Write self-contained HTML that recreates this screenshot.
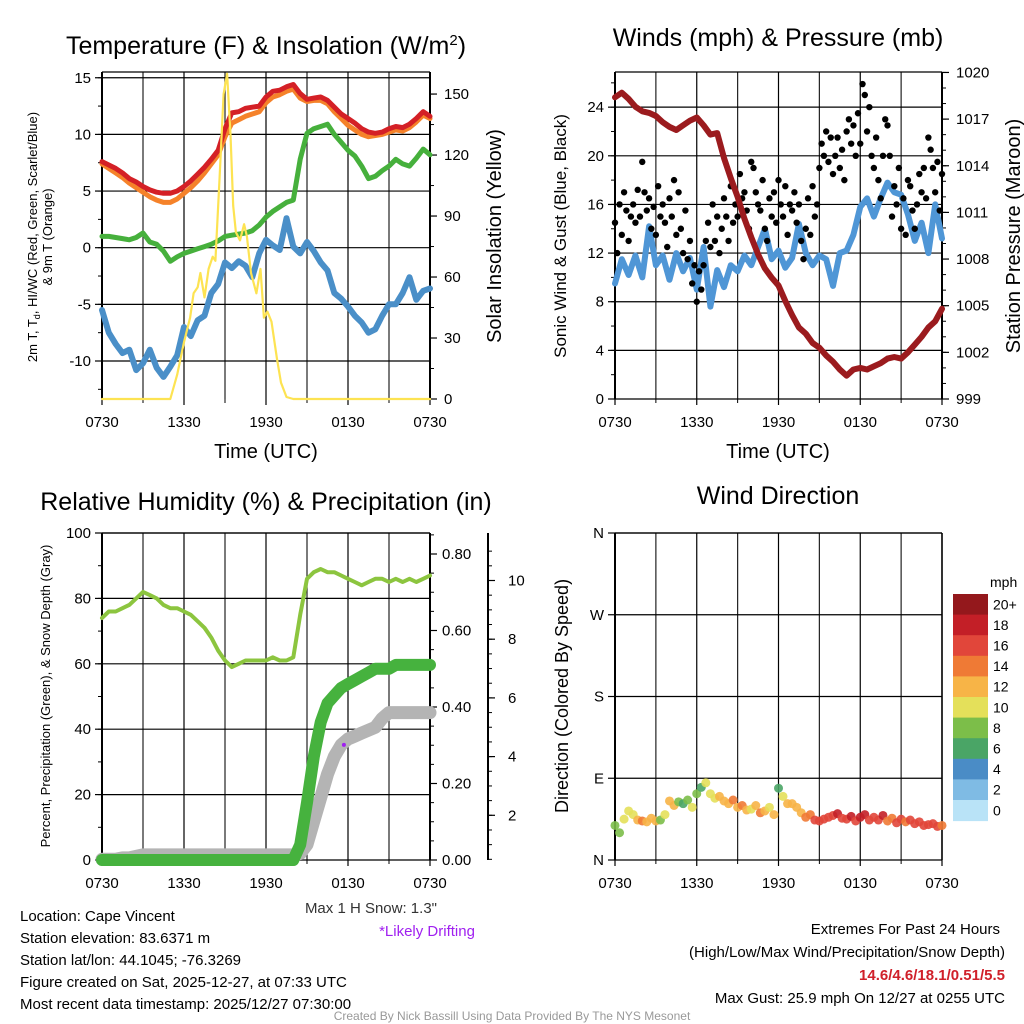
<!DOCTYPE html>
<html><head><meta charset="utf-8">
<style>
html,body{margin:0;padding:0;background:#fff;}
svg{display:block;font-family:"Liberation Sans",Arial,sans-serif;}
</style></head>
<body>
<svg id="s" width="1024" height="1024" viewBox="0 0 1024 1024" xmlns="http://www.w3.org/2000/svg">
<rect width="1024" height="1024" fill="#fff"/>
<text x="266" y="54" font-size="25" text-anchor="middle">Temperature (F) &amp; Insolation (W/m<tspan dy="-9" font-size="15">2</tspan><tspan dy="9">)</tspan></text>
<text x="778" y="46" font-size="25" text-anchor="middle">Winds (mph) &amp; Pressure (mb)</text>
<text x="266" y="510" font-size="25" text-anchor="middle">Relative Humidity (%) &amp; Precipitation (in)</text>
<text x="778" y="504" font-size="25" text-anchor="middle">Wind Direction</text>
<text transform="translate(37,237) rotate(-90)" font-size="13" text-anchor="middle">2m T, T<tspan dy="3" font-size="9">d</tspan><tspan dy="-3">, HI/WC (Red, Green, Scarlet/Blue)</tspan></text>
<text transform="translate(52,237) rotate(-90)" font-size="13" text-anchor="middle">&amp; 9m T (Orange)</text>
<text transform="translate(501,236) rotate(-90)" font-size="20" text-anchor="middle">Solar Insolation (Yellow)</text>
<text transform="translate(566,236) rotate(-90)" font-size="17" text-anchor="middle">Sonic Wind &amp; Gust (Blue, Black)</text>
<text transform="translate(1020,236) rotate(-90)" font-size="20" text-anchor="middle">Station Pressure (Maroon)</text>
<text transform="translate(50,696) rotate(-90)" font-size="13" text-anchor="middle">Percent, Precipitation (Green), &amp; Snow Depth (Gray)</text>
<text transform="translate(568,696) rotate(-90)" font-size="18" text-anchor="middle">Direction (Colored By Speed)</text>
<text x="266" y="458" font-size="20" text-anchor="middle">Time (UTC)</text>
<text x="778" y="458" font-size="20" text-anchor="middle">Time (UTC)</text>
<g font-size="15">
<text x="20" y="921">Location: Cape Vincent</text>
<text x="20" y="943">Station elevation: 83.6371 m</text>
<text x="20" y="965">Station lat/lon: 44.1045; -76.3269</text>
<text x="20" y="987">Figure created on Sat, 2025-12-27, at 07:33 UTC</text>
<text x="20" y="1009">Most recent data timestamp: 2025/12/27 07:30:00</text>
</g>
<text x="437" y="913" font-size="15" text-anchor="end" fill="#333">Max 1 H Snow: 1.3"</text>
<text x="427" y="936" font-size="15" text-anchor="middle" fill="#a020f0">*Likely Drifting</text>
<g font-size="15" text-anchor="end">
<text x="1000" y="934">Extremes For Past 24 Hours</text>
<text x="1005" y="957">(High/Low/Max Wind/Precipitation/Snow Depth)</text>
<text x="1005" y="980" fill="#d0202a" font-weight="bold">14.6/4.6/18.1/0.51/5.5</text>
<text x="1005" y="1003">Max Gust: 25.9 mph On 12/27 at 0255 UTC</text>
</g>
<text x="512" y="1020" font-size="12" text-anchor="middle" fill="#999">Created By Nick Bassill Using Data Provided By The NYS Mesonet</text>
</svg>
<script>
const timeLabels = ["0730","1330","1930","0130","0730"];
const tempRed = [7.6,7.3,7.0,6.6,6.1,5.8,5.4,5.1,4.9,4.8,4.8,5.0,5.4,5.9,6.5,7.1,7.8,8.6,10.5,11.9,12.0,12.3,12.4,12.5,13.3,13.8,13.9,14.2,14.4,13.6,13.1,13.2,13.3,13.0,12.4,11.8,11.4,11.0,10.5,10.2,10.1,10.2,10.5,10.7,10.6,10.9,11.4,12.0,11.6];
const tempOrange = [7.4,7.0,6.6,6.2,5.7,5.3,4.9,4.5,4.2,4.0,4.0,4.3,4.8,5.3,5.9,6.6,7.4,8.2,9.8,11.0,11.3,11.6,11.8,12.0,12.8,13.3,13.5,13.8,14.0,13.2,12.9,13.0,13.0,12.7,12.0,11.4,10.8,10.4,10.0,9.8,9.9,10.0,10.2,10.4,10.3,10.6,11.1,11.7,11.4];
const dewGreen = [1.0,1.0,0.9,0.8,0.7,0.9,1.3,0.5,0.3,-0.3,-1.2,-0.8,-0.5,-0.3,-0.1,0.1,0.3,0.6,1.0,1.1,1.2,1.3,1.5,2.0,2.7,3.2,3.6,4.0,4.2,7.8,10.1,10.5,10.7,10.9,10.0,9.3,8.6,8.1,7.2,6.1,6.3,6.8,7.2,7.8,7.4,7.2,7.9,8.7,8.2];
const chillBlue = [-5.5,-7.5,-8.5,-9.3,-9.0,-10.8,-10.2,-9.0,-10.6,-11.4,-10.5,-9.5,-7.0,-7.8,-6.4,-6.0,-4.0,-3.2,-1.3,-1.8,-1.2,-1.6,-2.6,-0.5,0.7,0.2,-0.2,2.6,0.1,-0.5,0.5,-0.3,-1.3,-2.0,-4.0,-4.5,-5.2,-6.0,-6.6,-7.5,-7.2,-6.0,-5.0,-5.0,-4.0,-2.6,-4.6,-3.8,-3.6];
const solarHours = [0,5.0,5.5,6.0,6.45,6.7,7.0,7.2,7.5,7.8,8.1,8.3,8.6,8.9,9.15,9.4,9.6,9.8,10.1,10.4,10.6,10.9,11.3,11.6,11.85,12.1,12.4,12.8,13.1,13.5,14,24];
const solarValues = [0,0,12,28,40,52,55,62,50,64,70,68,108,150,160,130,95,82,78,86,80,62,52,64,40,43,38,20,8,1,0,0];
const tempTicks = [-10,-5,0,5,10,15];
const solarTicks = [0,30,60,90,120,150];
const windSpeed = [9.5,11.5,10.2,11.8,10.0,14.2,11.0,11.8,9.8,12.0,10.5,11.6,9.0,12.5,7.6,10.6,9.2,11.0,10.5,11.8,11.0,12.5,14.0,11.5,12.2,10.8,11.6,14.4,12.0,11.0,11.8,11.5,9.3,12.0,12.2,13.5,15.8,16.5,15.0,16.5,17.8,17.0,16.8,15.2,13.0,14.5,12.0,16.0,13.2];
const windGust = [14.5,12.0,16.0,13.5,17.0,15.5,13.0,15.0,16.0,14.5,17.2,15.0,19.5,17.0,15.5,16.5,14.0,15.8,13.5,17.5,15.0,16.0,14.5,12.5,16.5,15.0,18.0,13.5,17.0,14.0,12.0,15.5,11.5,13.0,9.5,11.0,8.0,10.5,9.0,11.0,13.0,14.5,12.5,16.0,13.0,15.0,12.0,14.0,16.5,15.0,13.0,17.5,14.5,16.0,15.0,18.5,16.5,17.0,15.5,14.0,19.5,19.0,17.0,16.0,15.5,18.0,14.0,13.0,16.5,15.0,17.0,14.5,18.0,16.0,15.0,17.5,13.5,16.0,15.5,17.0,14.5,16.0,13.0,11.5,14.0,16.5,13.5,17.5,15.0,16.0,19.0,21.0,20.0,22.0,19.5,21.5,18.5,20.0,21.5,19.0,20.5,18.0,22.0,23.0,21.0,22.5,20.0,23.5,21.0,25.9,25.0,22.0,24.0,20.0,19.0,21.5,18.0,16.5,20.0,23.0,22.5,20.0,15.0,17.5,16.0,19.0,14.0,16.5,13.5,18.0,17.5,15.5,14.0,16.0,18.5,17.0,19.0,16.5,21.5,20.5,19.0,17.0,19.5,15.5,18.5];
const pressure = [1018.4,1018.7,1018.3,1017.8,1017.5,1017.4,1017.2,1016.8,1016.5,1016.3,1016.6,1016.9,1017.1,1016.6,1016.0,1016.1,1014.5,1013.2,1012.0,1010.6,1009.4,1008.3,1007.4,1006.8,1006.3,1005.3,1004.4,1003.6,1003.2,1002.6,1002.3,1001.8,1001.4,1000.9,1000.5,1000.9,1001.0,1000.9,1001.1,1001.3,1001.6,1001.7,1001.6,1002.0,1002.5,1003.0,1003.6,1004.0,1004.8];
const windTicks = [0,4,8,12,16,20,24];
const pressTicks = [999,1002,1005,1008,1011,1014,1017,1020];
const rhValues = [74,76,76,77,78,80,82,81,80,78,77,77,76,75,73,71,68,64,61,59,60,61,61,61,61,62,61,61,62,75,86,88,89,88,88,87,86,85,84,85,86,86,85,86,85,86,85,86,87];
const precipValues = [0,0,0,0,0,0,0,0,0,0,0,0,0,0,0,0,0,0,0,0,0,0,0,0,0,0,0,0,0,0.04,0.15,0.27,0.36,0.41,0.43,0.45,0.46,0.47,0.48,0.49,0.50,0.50,0.50,0.51,0.51,0.51,0.51,0.51,0.51];
const snowValues = [0.5,0.5,0.5,0.55,0.55,0.6,0.65,0.65,0.65,0.65,0.65,0.65,0.65,0.65,0.65,0.65,0.65,0.65,0.65,0.65,0.65,0.65,0.65,0.65,0.65,0.65,0.65,0.65,0.65,0.7,1.0,1.8,2.6,3.4,4.0,4.4,4.6,4.7,4.8,4.9,5.0,5.3,5.5,5.5,5.5,5.5,5.5,5.5,5.5];
const rhTicks = [0,20,40,60,80,100];
const precipTicks = [0,0.2,0.4,0.6,0.8];
const snowTicks = [2,4,6,8,10];
const driftPoint = [17.7,4.4];
const dirValues = [38,30,45,54,50,44,43,42,46,43,44,50,65,60,64,62,66,58,73,80,85,73,68,70,65,62,66,58,60,55,56,60,52,54,58,50,79,70,62,62,58,52,47,50,44,43,45,47,49,51,46,45,48,43,47,50,44,47,44,49,43,46,41,45,42,44,40,42,38,39,40,37,38];
const dirSpeeds = [9,8,11,10,11,13,14,13,12,12,9,10,12,13,8,7,9,10,8,7,10,11,10,12,12,13,14,12,14,13,11,12,14,12,10,13,7,10,12,12,13,12,14,15,16,16,17,16,17,18,17,16,18,17,18,19,17,17,16,18,14,15,16,16,15,17,17,16,17,16,17,16,15];
const dirTicks = [0,90,180,270,360];
const dirLabels = ["N","E","S","W","N"];
const speedBins = ["0","2","4","6","8","10","12","14","16","18","20+"];
const binColors = ["#b9e3f7","#7fbbe4","#4a8cc6","#4aa566","#7cbe49","#e4e05a","#f7b447","#ef7a35","#e1463a","#c31f27","#94181c"];

const S = document.getElementById('s');
const NS = "http://www.w3.org/2000/svg";
function mk(tag, attrs, parent){const e=document.createElementNS(NS,tag);for(const k in attrs)e.setAttribute(k,attrs[k]);(parent||S).appendChild(e);return e;}

function panel(x0,x1,y0,y1,name){
  const g=mk('g',{});
  
  
  const xs=h=>x0+(x1-x0)*h/24;
  for(let h=0;h<=24;h+=3){mk('line',{x1:xs(h),x2:xs(h),y1:y0,y2:y1,stroke:h%6==0?'#000':'#222','stroke-width':1.2},g);}
  for(let i=0;i<timeLabels.length;i++){
    const h=i*6;
    mk('line',{x1:xs(h),x2:xs(h),y1:y1,y2:y1+6,stroke:'#000','stroke-width':1.2},g);
    const t=mk('text',{x:xs(h),y:y1+28,'font-size':15,'text-anchor':'middle'},g);t.textContent=timeLabels[i];
  }
  for(let h=3;h<24;h+=6){mk('line',{x1:xs(h),x2:xs(h),y1:y1,y2:y1+4,stroke:'#000'},g);}
  return {g,xs};
}
function line(g,xs,ys,vals,color,w,name,times){
  const pts=vals.map((v,i)=>xs(times?times[i]:i/2).toFixed(1)+','+ys(v).toFixed(1)).join(' ');
  const p=mk('polyline',{points:pts,fill:'none',stroke:color,'stroke-width':w,'stroke-linejoin':'round','stroke-linecap':'round'},g);
  
  
  return p;
}
function leftAxis(g,x,ys,ticks,labels,y0,y1,minorStep,minorFrom,minorTo,grid,x1){
  mk('line',{x1:x,x2:x,y1:y0,y2:y1,stroke:'#000','stroke-width':2},g);
  ticks.forEach((v,i)=>{
    mk('line',{x1:x-7,x2:x,y1:ys(v),y2:ys(v),stroke:'#000','stroke-width':1.2},g);
    if(grid) mk('line',{x1:x,x2:x1,y1:ys(v),y2:ys(v),stroke:'#000','stroke-width':1.2},g);
    const t=mk('text',{x:x-11,y:ys(v)+5,'font-size':15,'text-anchor':'end'},g);t.textContent=labels?labels[i]:v;
  });
  if(minorStep) for(let v=minorFrom;v<=minorTo+1e-9;v+=minorStep){const y=ys(v);if(y>=y0&&y<=y1)mk('line',{x1:x-4,x2:x,y1:y,y2:y,stroke:'#000'},g);}
}
function rightAxis(g,x,ys,ticks,labels,y0,y1,minorStep,minorFrom,minorTo,lx){
  mk('line',{x1:x,x2:x,y1:y0,y2:y1,stroke:'#000','stroke-width':2},g);
  ticks.forEach((v,i)=>{
    mk('line',{x1:x,x2:x+7,y1:ys(v),y2:ys(v),stroke:'#000','stroke-width':1.2},g);
    const t=mk('text',{x:x+(lx||12),y:ys(v)+5,'font-size':15},g);t.textContent=labels?labels[i]:v;
  });
  if(minorStep) for(let v=minorFrom;v<=minorTo+1e-9;v+=minorStep){const y=ys(v);if(y>=y0-1&&y<=y1+1)mk('line',{x1:x,x2:x+4,y1:y,y2:y,stroke:'#000'},g);}
}

(function(){
  const x0=102,x1=430,y0=72,y1=399;
  const {g,xs}=panel(x0,x1,y0,y1,'temperature-panel');
  const ys=v=>247.7-(v)*11.33;
  const ysSol=v=>399-v*2.033;
  leftAxis(g,x0,ys,tempTicks,null,y0,y1,2.5,-12.5,15,true,x1);
  mk('line',{x1:x0,x2:x1,y1:y0,y2:y0,stroke:'#000','stroke-width':1.2},g);
  rightAxis(g,x1,ysSol,solarTicks,null,y0,y1,15,0,165,14);
  line(g,xs,ys,chillBlue,'#4a8fc8',6,'wind-chill-line');
  line(g,xs,ys,dewGreen,'#46b03c',5,'dewpoint-line');
  line(g,xs,ys,tempOrange,'#f5822a',5,'temp-9m-line');
  line(g,xs,ys,tempRed,'#d42026',5,'temp-2m-line');
  line(g,xs,ysSol,solarValues,'#fde352',2.2,'solar-line',solarHours);
})();

(function(){
  const x0=615,x1=942,y0=72,y1=399;
  const {g,xs}=panel(x0,x1,y0,y1,'wind-panel');
  const ys=v=>399-v*12.16;
  const ysP=v=>399-(v-999)*15.55;
  leftAxis(g,x0,ys,windTicks,null,y0,y1,2,0,26,true,x1);
  mk('line',{x1:x0,x2:x1,y1:y0,y2:y0,stroke:'#000','stroke-width':1.2},g);
  rightAxis(g,x1,ysP,pressTicks,null,y0,y1,1,999,1020,14);
  line(g,xs,ys,windSpeed,'#4f96d6',6,'wind-speed-line');
  windGust.forEach((v,i)=>{
    const c=mk('circle',{cx:xs(i/6),cy:ys(v),r:3.2,fill:'#000'},g);
    
    
  });
  line(g,xs,ysP,pressure,'#9b1b1e',6,'pressure-line');
})();

(function(){
  const x0=102,x1=430,y0=533,y1=860;
  const {g,xs}=panel(x0,x1,y0,y1,'humidity-panel');
  const ys=v=>860-v*3.27;
  const ysPr=v=>860-v*382.5;
  const ysSn=v=>874-v*29.35;
  leftAxis(g,x0,ys,rhTicks,null,y0,y1,10,0,100,true,x1);
  mk('line',{x1:x0,x2:x1,y1:y0,y2:y0,stroke:'#000','stroke-width':1.2},g);
  rightAxis(g,x1,ysPr,precipTicks,["0.00","0.20","0.40","0.60","0.80"],y0,y1,0.05,0,0.85,12);
  rightAxis(g,488,ysSn,snowTicks,null,y0,y1,0.5,0,11,20);
  line(g,xs,ysSn,snowValues,'#b4b4b4',13,'snow-depth-line');
  line(g,xs,ysPr,precipValues,'#46b23e',12,'precip-line');
  line(g,xs,ys,rhValues,'#8cc53f',4,'rh-line');
  const d=mk('circle',{cx:xs(driftPoint[0]),cy:ysSn(driftPoint[1]),r:2,fill:'#a020f0'},g);
  
  
})();

(function(){
  const x0=615,x1=942,y0=533,y1=860;
  const {g,xs}=panel(x0,x1,y0,y1,'direction-panel');
  const ys=v=>860-v*(327/360);
  leftAxis(g,x0,ys,dirTicks,dirLabels,y0,y1,0,0,0,true,x1);
  mk('line',{x1:x0,x2:x1,y1:y0,y2:y0,stroke:'#000','stroke-width':1.2},g);
  mk('line',{x1:x1,x2:x1,y1:y0,y2:y1,stroke:'#000','stroke-width':1.5},g);
  dirValues.forEach((v,i)=>{
    const sp=dirSpeeds[i];
    const b=Math.min(10,Math.floor(sp/2));
    const c=mk('circle',{cx:xs(i/3),cy:ys(v),r:4.5,fill:binColors[b],opacity:0.9},g);
    
    
  });
  const cb=mk('g',{});
  
  
  const t=mk('text',{x:990,y:587,'font-size':14},cb);t.textContent='mph';
  const top=594,h=20.6;
  for(let i=0;i<speedBins.length;i++){
    const k=speedBins.length-1-i;
    mk('rect',{x:953,y:top+i*h,width:35,height:h+0.5,fill:binColors[k]},cb);
    const l=mk('text',{x:993,y:top+i*h+h/2+5,'font-size':14},cb);l.textContent=speedBins[k];
  }
})();
</script>
</body></html>
